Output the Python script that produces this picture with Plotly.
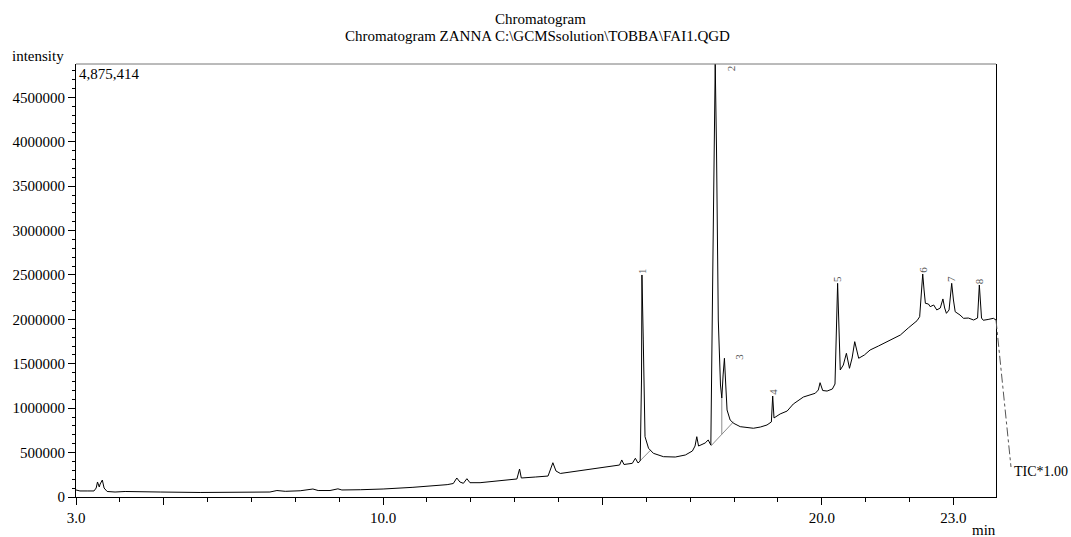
import plotly.graph_objects as go

# Total ion chromatogram: retention time (min) and intensity
rt_min = [
    3.00, 3.09, 3.27, 3.41, 3.46, 3.49, 3.53, 3.55, 3.60, 3.64, 3.71, 3.89, 4.12, 4.46, 4.92,
    5.83, 6.74, 7.42, 7.58, 7.77, 8.11, 8.40, 8.52, 8.79, 8.97, 9.06, 9.48, 10.00, 10.68, 11.07,
    11.46, 11.60, 11.68, 11.75, 11.83, 11.91, 11.98, 12.21, 12.55, 12.90, 13.05, 13.11, 13.15, 13.47, 13.76,
    13.87, 13.94, 14.04, 14.49, 14.95, 15.24, 15.39, 15.44, 15.49, 15.68, 15.75, 15.81, 15.86, 15.89, 15.90,
    15.93, 15.95, 15.97, 16.05, 16.16, 16.39, 16.66, 16.89, 17.05, 17.11, 17.15, 17.19, 17.27, 17.34, 17.41,
    17.47, 17.52, 17.57, 17.60, 17.64, 17.69, 17.72, 17.75, 17.78, 17.81, 17.84, 17.91, 17.99, 18.14, 18.44,
    18.60, 18.75, 18.85, 18.88, 18.91, 19.05, 19.21, 19.35, 19.58, 19.73, 19.85, 19.92, 19.96, 20.02, 20.12,
    20.24, 20.30, 20.36, 20.39, 20.42, 20.49, 20.56, 20.63, 20.69, 20.75, 20.84, 20.97, 21.10, 21.29, 21.48,
    21.63, 21.79, 21.97, 22.17, 22.23, 22.27, 22.30, 22.33, 22.36, 22.43, 22.47, 22.55, 22.62, 22.70, 22.76,
    22.80, 22.84, 22.90, 22.96, 23.00, 23.04, 23.15, 23.23, 23.34, 23.46, 23.55, 23.59, 23.64, 23.68, 23.79,
    23.91, 23.97,
]
tic = [
    79000, 68000, 68000, 68000, 101000, 169000, 113000, 146000, 191000, 101000, 62000, 56000, 62000, 56000, 56000,
    51000, 56000, 56000, 73000, 64000, 70000, 90000, 73000, 73000, 92000, 79000, 82000, 90000, 109000, 120000,
    139000, 152000, 214000, 169000, 154000, 206000, 161000, 161000, 180000, 197000, 203000, 315000, 214000, 225000, 236000,
    386000, 293000, 265000, 298000, 327000, 349000, 360000, 417000, 366000, 379000, 436000, 383000, 405000, 1317000, 2500000,
    1768000, 980000, 679000, 549000, 492000, 454000, 450000, 473000, 518000, 574000, 679000, 574000, 597000, 608000, 642000,
    585000, 2781000, 4875414, 3907000, 1993000, 1261000, 1115000, 1374000, 1562000, 1261000, 980000, 867000, 830000, 792000, 774000,
    788000, 811000, 845000, 1137000, 890000, 935000, 968000, 1047000, 1126000, 1148000, 1168000, 1205000, 1287000, 1199000, 1193000,
    1216000, 1272000, 2406000, 1768000, 1430000, 1486000, 1618000, 1449000, 1565000, 1749000, 1562000, 1599000, 1655000, 1700000, 1749000,
    1790000, 1824000, 1903000, 1985000, 2030000, 2331000, 2511000, 2331000, 2181000, 2173000, 2143000, 2162000, 2106000, 2128000, 2230000,
    2128000, 2068000, 2106000, 2406000, 2218000, 2086000, 2049000, 2012000, 2015000, 1993000, 2015000, 2387000, 2015000, 1990000, 1999000,
    2012000, 1993000,
]

# Numbered peaks and their apex retention times
peak_no = ["1", "2", "3", "4", "5", "6", "7", "8"]
peak_rt = [15.90, 17.57, 17.78, 18.88, 20.36, 22.30, 22.96, 23.59]

# Integration baselines (start/end retention time and intensity)
base_rt = [[15.86, 16.10], [17.47, 17.99]]
base_int = [[409000, 529000], [574000, 848000]]
split_rt = 17.72  # perpendicular drop between peaks 2 and 3

x_ticks = [3, 5, 10, 15, 20, 23]
x_tick_text = ["3.0", "", "10.0", "", "20.0", "23.0"]
y_ticks = list(range(0, 4500001, 500000))
y_tick_text = [str(v) for v in y_ticks]

y_top = max(tic)
x_range = [3.0, 23.97]

SERIF = "Liberation Serif"

fig = go.Figure()

# integration baselines in grey
for xs, ys in zip(base_rt, base_int):
    fig.add_trace(go.Scatter(x=xs, y=ys, mode="lines",
                             line=dict(color="#8c8c8c", width=1), hoverinfo="skip"))
i_split = rt_min.index(split_rt)
b0, b1 = base_int[1]
t0, t1 = base_rt[1]
base_at_split = b0 + (split_rt - t0) / (t1 - t0) * (b1 - b0)
fig.add_trace(go.Scatter(x=[split_rt, split_rt], y=[base_at_split, tic[i_split]], mode="lines",
                         line=dict(color="#8c8c8c", width=1), hoverinfo="skip"))

# chromatogram trace
fig.add_trace(go.Scatter(x=rt_min, y=tic, mode="lines",
                         line=dict(color="black", width=1), hoverinfo="skip"))

annotations = []
# peak numbers written vertically above each apex
for lab, t in zip(peak_no, peak_rt):
    h = tic[rt_min.index(t)]
    ann = dict(x=t, y=h, xref="x", yref="y", text=lab, showarrow=False, textangle=-90,
               font=dict(family=SERIF, size=11, color="#555555"),
               xanchor="center", yanchor="bottom", borderpad=0)
    if lab == "2":
        ann.update(yanchor="top", xshift=16)
    elif lab == "3":
        ann.update(yanchor="middle", xshift=15, yshift=2)
    annotations.append(ann)

def py(pix):
    return (497 - pix) / 433.0

def px(pix):
    return (pix - 76) / 920.0

annotations += [
    dict(x=px(540), y=py(19.5), xref="paper", yref="paper", text="Chromatogram", showarrow=False,
         font=dict(family=SERIF, size=15, color="black"), xanchor="center", yanchor="middle"),
    dict(x=px(537), y=py(35.5), xref="paper", yref="paper",
         text="Chromatogram ZANNA C:\\GCMSsolution\\TOBBA\\FAI1.QGD", showarrow=False,
         font=dict(family=SERIF, size=15, color="black"), xanchor="center", yanchor="middle"),
    dict(x=px(10), y=py(56), xref="paper", yref="paper", text="intensity", showarrow=False,
         font=dict(family=SERIF, size=15, color="black"), xanchor="left", yanchor="middle"),
    dict(x=px(77), y=py(74), xref="paper", yref="paper", text=f"{y_top:,}", showarrow=False,
         font=dict(family=SERIF, size=15, color="black"), xanchor="left", yanchor="middle"),
    dict(x=px(1012), y=py(471), xref="paper", yref="paper", text="TIC*1.00", showarrow=False,
         font=dict(family=SERIF, size=14, color="black"), xanchor="left", yanchor="middle"),
    dict(x=px(984), y=py(530), xref="paper", yref="paper", text="min", showarrow=False,
         font=dict(family=SERIF, size=15, color="black"), xanchor="center", yanchor="middle"),
]

shapes = [
    # top frame edge
    dict(type="line", xref="paper", yref="paper", x0=0, x1=1, y0=1, y1=1,
         line=dict(color="#777777", width=1)),
    # leader from trace end to the trace label
    dict(type="line", xref="paper", yref="paper", x0=1.0, y0=tic[-1] / y_top,
         x1=px(1011), y1=py(467), line=dict(color="#555555", width=1, dash="dashdot")),
]

fig.update_layout(
    width=1071, height=537,
    margin=dict(l=76, r=75, t=64, b=40),
    paper_bgcolor="white", plot_bgcolor="white",
    showlegend=False,
    annotations=annotations,
    shapes=shapes,
    xaxis=dict(
        range=x_range, tickmode="array", tickvals=x_ticks, ticktext=x_tick_text,
        ticks="outside", ticklen=7, tickwidth=1, tickcolor="black",
        showline=True, linecolor="black", linewidth=1, mirror=False,
        showgrid=False, zeroline=False,
        tickfont=dict(family=SERIF, size=15, color="black"),
        minor=dict(tickmode="linear", tick0=3, dtick=1, ticks="outside", ticklen=4,
                   tickcolor="black", showgrid=False),
    ),
    yaxis=dict(
        range=[0, y_top], tickmode="array", tickvals=y_ticks, ticktext=y_tick_text,
        ticks="outside", ticklen=7, tickwidth=1, tickcolor="black",
        showline=True, linecolor="black", linewidth=1, mirror=True,
        showgrid=False, zeroline=False,
        tickfont=dict(family=SERIF, size=15, color="black"),
        minor=dict(tickmode="linear", tick0=0, dtick=100000, ticks="outside", ticklen=3,
                   tickcolor="black", showgrid=False),
    ),
)

fig.write_html("out.html")
